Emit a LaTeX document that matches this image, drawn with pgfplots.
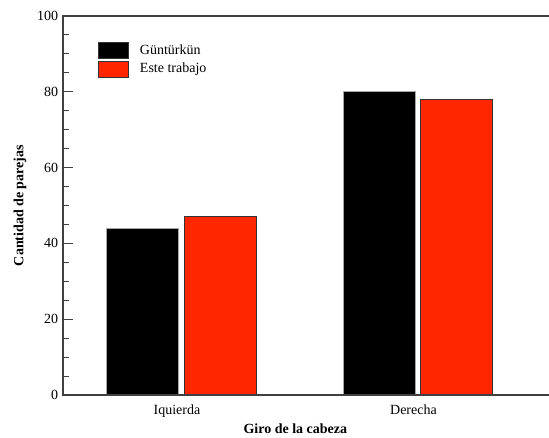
\documentclass[border=0pt]{standalone}
\usepackage{fontspec}
\setmainfont{Liberation Serif}
\usepackage{pgfplots}
\pgfplotsset{compat=1.18}
\definecolor{barred}{RGB}{255,38,0}
\definecolor{axgray}{RGB}{64,64,64}
\begin{document}
\fontsize{14}{17}\selectfont
\begin{tikzpicture}
\begin{axis}[
  scale only axis, width=486pt, height=379pt,
  xmin=-0.501, xmax=1.554, ymin=0, ymax=100,
  clip=false,
  axis line style={draw=none},
  ytick={0,20,...,100}, minor y tick num=3,
  ytick pos=left, tick align=inside,
  major tick length=10pt, minor tick length=6pt,
  every tick/.style={axgray, line width=1pt},
  xtick={0,1}, xticklabels={Iquierda,Derecha},
  x tick style={draw=none},
  xticklabel style={xshift=-4.5pt, yshift=-5pt},
  /pgf/number format/assume math mode=true,
  every axis y label/.style={at={(axis description cs:-0.0885,0.5)}, rotate=90, anchor=center},
  every axis x label/.style={at={(axis description cs:0.478,-0.0897)}, anchor=center},
  ylabel={\textbf{Cantidad de parejas}},
  xlabel={\textbf{Giro de la cabeza}},
  legend style={at={(rel axis cs:0.072,0.931)}, anchor=north west,
    draw=none, fill=none, inner sep=0pt, row sep=1.5pt, column sep=11pt,
    nodes={inner sep=0pt}},
  legend cell align=left,
]
\addplot[ybar, bar width=0.304, bar shift=-0.164, fill=black, draw=gray!70, line width=0.8pt,
  legend image code/.code={\draw[fill=black, draw=black!80, line width=0.8pt] (0pt,-8pt) rectangle (30pt,8pt);}]
  coordinates {(0,44) (1,80)};
\addplot[ybar, bar width=0.304, bar shift=0.164, fill=barred, draw=black!80, line width=0.8pt,
  legend image code/.code={\draw[fill=barred, draw=black!80, line width=0.8pt] (0pt,-8pt) rectangle (30pt,8pt);}]
  coordinates {(0,47) (1,78)};
\legend{Güntürkün, Este trabajo}
\draw[axgray, line width=1.2pt] (rel axis cs:1,1) -- (rel axis cs:0,1) -- (rel axis cs:0,0) -- (rel axis cs:1,0);
\end{axis}
\pgfresetboundingbox
\path (-63pt,-42pt) rectangle (486pt,395pt);
\end{tikzpicture}
\end{document}
